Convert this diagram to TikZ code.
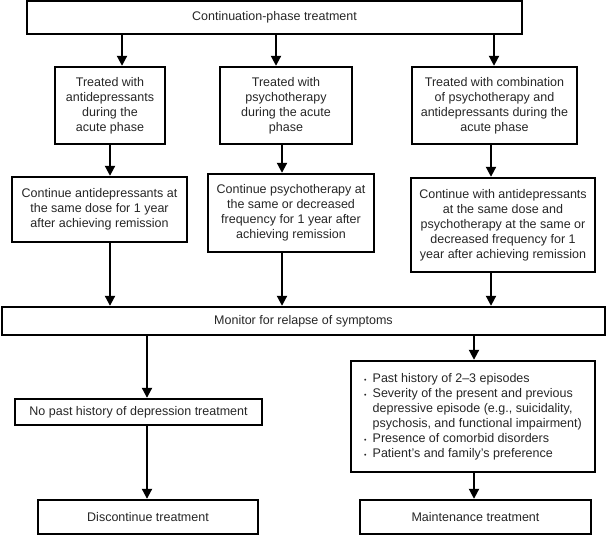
\documentclass[tikz,border=0pt]{standalone}
\usepackage{fontspec}
\setmainfont{Liberation Sans}
\usetikzlibrary{arrows.meta}
\begin{document}
\begin{tikzpicture}[x=1pt,y=-1pt,
  box/.style={draw=black, line width=2.4pt, align=center, inner sep=0pt,
    font=\fontsize{12.5}{15}\selectfont, text=black!85},
  arr/.style={draw=black, line width=2pt, -{Triangle[width=10pt,length=10pt]}}]
\useasboundingbox (0,0) rectangle (607,536);
% row 0
\node[box, minimum width=495pt, minimum height=33pt] (top) at (274.5,17.5) {Continuation-phase treatment};
% row 1
\node[box, minimum width=110pt, minimum height=77pt] (a1) at (110,105.5)
  {Treated with\\antidepressants\\during the\\acute phase};
\node[box, minimum width=132pt, minimum height=77pt] (a2) at (286,105.5)
  {Treated with\\psychotherapy\\during the acute\\phase};
\node[box, minimum width=165pt, minimum height=77pt] (a3) at (494.5,105.5)
  {Treated with combination\\of psychotherapy and\\antidepressants during the\\acute phase};
% row 2
\node[box, minimum width=175pt, minimum height=65pt] (b1) at (99.5,209.5)
  {Continue antidepressants at\\the same dose for 1 year\\after achieving remission};
\node[box, minimum width=166pt, minimum height=78pt] (b2) at (291,213)
  {Continue psychotherapy at\\the same or decreased\\frequency for 1 year after\\achieving remission};
\node[box, minimum width=184pt, minimum height=94pt] (b3) at (503,225)
  {Continue with antidepressants\\at the same dose and\\psychotherapy at the same or\\decreased frequency for 1\\year after achieving remission};
% monitor
\node[box, minimum width=603pt, minimum height=28pt] (mon) at (303.5,321) {Monitor for relapse of symptoms};
% lower
\node[box, minimum width=247pt, minimum height=26pt] (nopast) at (138.5,412) {No past history of depression treatment};
\node[box, minimum width=244pt, minimum height=111pt] (crit) at (473,416.5)
  {\raisebox{4pt}{\begin{tabular}{@{}l@{\hspace{6pt}}l@{}}
   {\scriptsize\textbullet} & Past history of 2–3 episodes\\
   {\scriptsize\textbullet} & Severity of the present and previous\\
   & depressive episode (e.g., suicidality,\\
   & psychosis, and functional impairment)\\
   {\scriptsize\textbullet} & Presence of comorbid disorders\\
   {\scriptsize\textbullet} & Patient’s and family’s preference
  \end{tabular}}};
\node[box, minimum width=220pt, minimum height=34pt] (disc) at (148,517) {Discontinue treatment};
\node[box, minimum width=231pt, minimum height=34pt] (maint) at (475.5,517) {Maintenance treatment};
% arrows
\draw[arr] ([xshift=12pt]a1.north |- top.south) -- ([xshift=12pt]a1.north);
\draw[arr] ([xshift=-10pt]a2.north |- top.south) -- ([xshift=-10pt]a2.north);
\draw[arr] ([xshift=-0.5pt]a3.north |- top.south) -- ([xshift=-0.5pt]a3.north);
\draw[arr] (a1.south) -- (a1.south |- b1.north);
\draw[arr] ([xshift=-4pt]a2.south) -- ([xshift=-4pt]a2.south |- b2.north);
\draw[arr] ([xshift=-3.5pt]a3.south) -- ([xshift=-3.5pt]a3.south |- b3.north);
\draw[arr] ([xshift=10.5pt]b1.south) -- ([xshift=10.5pt]b1.south |- mon.north);
\draw[arr] ([xshift=-9pt]b2.south) -- ([xshift=-9pt]b2.south |- mon.north);
\draw[arr] ([xshift=-12pt]b3.south) -- ([xshift=-12pt]b3.south |- mon.north);
\draw[arr] ([xshift=8.5pt]nopast.north |- mon.south) -- ([xshift=8.5pt]nopast.north);
\draw[arr] ([xshift=1pt]crit.north |- mon.south) -- ([xshift=1pt]crit.north);
\draw[arr] ([xshift=8.5pt]nopast.south) -- ([xshift=8.5pt]nopast.south |- disc.north);
\draw[arr] ([xshift=1pt]crit.south) -- ([xshift=1pt]crit.south |- maint.north);
\end{tikzpicture}
\end{document}
